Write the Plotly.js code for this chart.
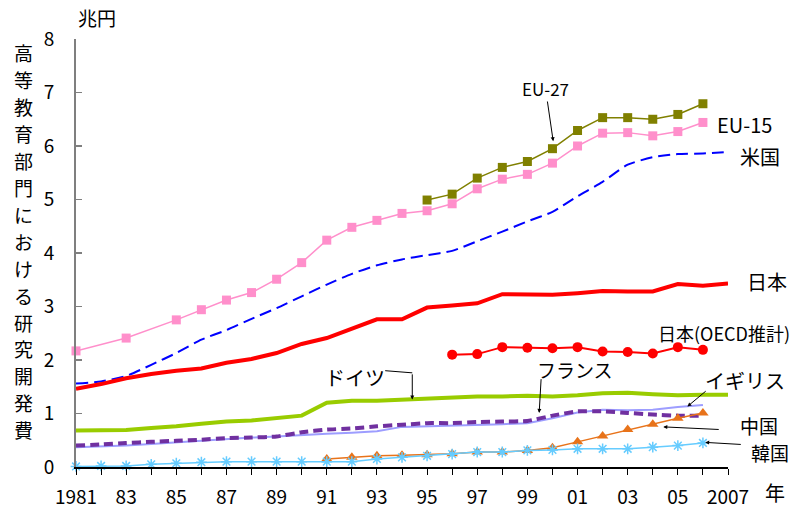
<!DOCTYPE html>
<html>
<head>
<meta charset="utf-8">
<script src="https://cdn.plot.ly/plotly-3.0.1.min.js"></script>
<style>
  html, body { margin: 0; padding: 0; background: #fff; }
  #chart { width: 797px; height: 509px; }
</style>
</head>
<body>
<div id="chart"></div>
<script>
// 高等教育部門における研究開発費（兆円）, 1981–2007
const years = [1981,1982,1983,1984,1985,1986,1987,1988,1989,1990,1991,1992,1993,1994,
               1995,1996,1997,1998,1999,2000,2001,2002,2003,2004,2005,2006,2007];

const tickYears = years;
const tickLabels = ['1981','','83','','85','','87','','89','','91','','93','','95','','97','',
                    '99','','01','','03','','05','','2007'];

const eu15 = [2.17,null,2.41,null,2.75,2.94,3.12,3.26,3.51,3.82,4.24,4.48,4.61,4.74,
              4.79,4.92,5.20,5.38,5.47,5.68,6.00,6.24,6.25,6.19,6.27,6.44,null];
const eu27 = [null,null,null,null,null,null,null,null,null,null,null,null,null,null,
              4.99,5.10,5.40,5.60,5.71,5.95,6.29,6.53,6.53,6.50,6.59,6.79,null];
const usa = [1.56,1.60,1.70,1.91,2.13,2.38,2.56,2.77,2.97,3.19,3.41,3.61,3.77,3.88,
             3.96,4.04,4.22,4.40,4.59,4.77,5.06,5.33,5.65,5.79,5.85,5.86,5.89];
const japan = [1.46,1.55,1.66,1.74,1.80,1.84,1.95,2.02,2.13,2.30,2.41,2.58,2.76,2.76,
               2.98,3.02,3.06,3.23,3.22,3.22,3.25,3.29,3.28,3.28,3.42,3.39,3.43];
const japanOecd = [null,null,null,null,null,null,null,null,null,null,null,null,null,null,
                   null,2.10,2.11,2.24,2.23,2.22,2.24,2.16,2.15,2.12,2.24,2.19,null];
const germany = [0.68,0.68,0.69,0.73,0.76,0.81,0.85,0.87,0.92,0.96,1.20,1.24,1.24,1.26,
                 1.27,1.30,1.32,1.32,1.33,1.32,1.34,1.38,1.39,1.36,1.34,1.35,1.35];
const france = [0.40,0.42,0.45,0.47,0.49,0.51,0.54,0.55,0.57,0.65,0.70,0.72,0.76,0.79,
                0.82,0.82,0.84,0.85,0.86,0.96,1.04,1.04,1.01,0.98,0.96,0.96,null];
const uk = [0.37,0.38,0.40,0.43,0.46,0.49,0.53,0.55,0.57,0.60,0.62,0.64,0.67,0.75,
            0.76,0.77,0.79,0.80,0.82,0.91,1.02,1.07,1.06,1.07,1.12,1.16,null];
const china = [null,null,null,null,null,null,null,null,null,null,0.15,0.18,0.21,0.22,
               0.23,0.25,0.28,0.28,0.31,0.36,0.47,0.58,0.70,0.80,0.91,1.01,null];
const korea = [0.01,0.02,0.02,0.05,0.07,0.09,0.10,0.10,0.10,0.10,0.10,0.10,0.15,0.18,
               0.21,0.24,0.28,0.28,0.31,0.32,0.34,0.34,0.34,0.37,0.40,0.45,null];

const yTitle = '高等教育部門における研究開発費';

const FONT = '"Noto Sans CJK JP", "Noto Sans", sans-serif';
const X0 = 1981, X1 = 2007, Y1 = 8;
const W = 797, H = 509, M = {l: 76, r: 69, t: 39, b: 42};
const plotH = H - M.t - M.b;

function series(y, line, marker) {
  const t = {
    x: years, y: y, type: 'scatter',
    mode: marker ? 'lines+markers' : 'lines',
    line: line, connectgaps: true, cliponaxis: false, hoverinfo: 'skip'
  };
  if (marker) t.marker = marker;
  return t;
}

const traces = [
  series(uk, {color: '#9d9dff', width: 2}),
  series(france, {color: '#7030a0', width: 4, dash: '9px,5px', shape: 'spline', smoothing: 0.4}),
  series(germany, {color: '#99cc00', width: 4}),
  series(usa, {color: '#0000ff', width: 2, dash: '12px,6px', shape: 'spline', smoothing: 0.6}),
  series(japan, {color: '#ff0000', width: 4}),
  series(japanOecd, {color: '#ff0000', width: 2}, {symbol: 'circle', size: 10, color: '#ff0000'}),
  series(eu15, {color: '#ff8fcb', width: 1.5}, {symbol: 'square', size: 9, color: '#ff8fcb'}),
  series(eu27, {color: '#808000', width: 1.5}, {symbol: 'square', size: 9, color: '#808000'}),
  series(china, {color: '#e8731a', width: 1.5}, {symbol: 'triangle-up', size: 10, color: '#e8731a'}),
  series(korea, {color: '#66ccff', width: 1.5}, {symbol: 'asterisk-open', size: 9, color: '#66ccff', line: {color: '#66ccff', width: 1.5}})
];

// series labels are placed in paper space so they may sit beyond the last year
function label(text, x, y, size, anchor) {
  return {text: text, x: (x - X0) / (X1 - X0), y: y / Y1, xref: 'paper', yref: 'paper',
          showarrow: false, xanchor: anchor || 'left', yanchor: 'middle',
          font: {family: FONT, size: size, color: '#000'}};
}
function arrow(tx, ty, hx, hy) {
  return {text: '', x: hx, y: hy, xref: 'x', yref: 'y', ax: tx, ay: ty,
          axref: 'x', ayref: 'y', showarrow: true, arrowhead: 2, arrowsize: 0.8,
          arrowwidth: 1, arrowcolor: '#000', standoff: 0, startstandoff: 0};
}

const annotations = [
  label('EU-27', 1999.71, 7.07, 17, 'center'),
  arrow(1999.79, 6.86, 2000.03, 6.09),
  label('EU-15', 2006.49, 6.41, 20),
  label('米国', 2007.41, 5.81, 20),
  label('日本', 2007.69, 3.46, 20),
  label('日本(OECD推計)', 2004.14, 2.51, 18),
  label('ドイツ', 1990.86, 1.67, 20),
  arrow(1994.41, 1.76, 1994.41, 1.26),
  label('フランス', 1999.31, 1.82, 19),
  arrow(1999.55, 1.67, 1999.47, 1.01),
  label('イギリス', 2006.01, 1.61, 20),
  arrow(2006.17, 1.44, 2005.38, 1.13),
  label('中国', 2007.41, 0.77, 19),
  arrow(2006.69, 0.70, 2004.42, 0.75),
  label('韓国', 2007.85, 0.27, 19),
  arrow(2007.57, 0.42, 2006.09, 0.46),
  {text: '兆円', xref: 'paper', yref: 'paper', x: 0, y: 1.05, xanchor: 'left', yanchor: 'middle',
   showarrow: false, font: {family: FONT, size: 19, color: '#000'}},
  {text: '年', xref: 'paper', yref: 'paper', x: 1.0537, y: -0.06, xanchor: 'left', yanchor: 'middle',
   showarrow: false, font: {family: FONT, size: 20, color: '#000'}}
];

// vertical y-axis title: one character per row, 27px pitch
const titleTop = 53, titlePitch = 26.9, titleX = 23;
yTitle.split('').forEach(function (ch, i) {
  const py = titleTop + i * titlePitch;
  annotations.push({
    text: ch, xref: 'paper', yref: 'paper',
    x: (titleX - M.l) / (W - M.l - M.r), y: (H - M.b - py) / plotH,
    xanchor: 'center', yanchor: 'middle', showarrow: false,
    font: {family: FONT, size: 19, color: '#000'}
  });
});

// elbow leader from the ドイツ label
const shapes = [
  {type: 'line', xref: 'x', yref: 'y', x0: 1993.33, y0: 1.80, x1: 1994.41, y1: 1.76,
   line: {color: '#000', width: 1}}
];

const layout = {
  width: W, height: H,
  margin: M,
  paper_bgcolor: '#fff', plot_bgcolor: '#fff',
  showlegend: false,
  font: {family: FONT, color: '#000'},
  xaxis: {
    range: [X0, X1], tickmode: 'array', tickvals: tickYears, ticktext: tickLabels,
    ticks: 'outside', ticklen: 6, tickwidth: 1, tickcolor: '#000',
    showline: true, linecolor: '#000', linewidth: 1.5,
    showgrid: false, zeroline: false, ticklabelstandoff: 7,
    tickfont: {family: FONT, size: 19, color: '#000'}
  },
  yaxis: {
    range: [0, Y1], tickmode: 'linear', tick0: 0, dtick: 1,
    ticks: 'inside', ticklen: 6, tickwidth: 1.5, tickcolor: '#7f7f7f',
    showline: true, linecolor: '#7f7f7f', linewidth: 2,
    showgrid: false, zeroline: false, ticklabelstandoff: 16,
    tickfont: {family: FONT, size: 19, color: '#000'}
  },
  annotations: annotations,
  shapes: shapes
};

Plotly.newPlot('chart', traces, layout, {staticPlot: true, displayModeBar: false});
</script>
</body>
</html>
